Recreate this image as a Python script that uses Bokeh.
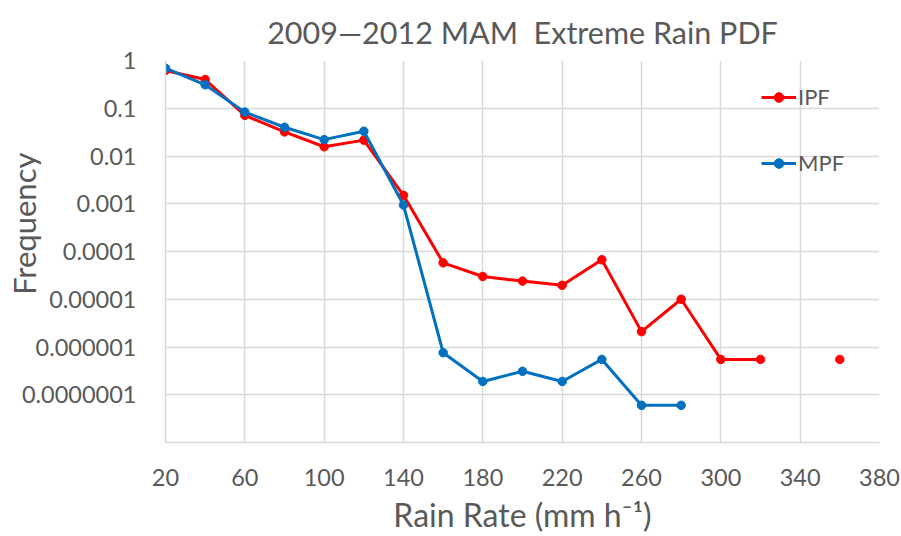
from bokeh.plotting import figure
from bokeh.models import FixedTicker, CustomJSTickFormatter, Range1d, Legend, LegendItem
from bokeh.embed import file_html
from bokeh.resources import INLINE
import numpy as np

rain_rate = [20, 40, 60, 80, 100, 120, 140, 160, 180, 200, 220, 240, 260, 280, 300, 320, 340, 360]
ipf = [0.62, 0.40, 0.071, 0.032, 0.0156, 0.0215, 0.0015, 5.8e-5, 3.0e-5, 2.4e-5, 1.96e-5, 6.7e-5,
       2.1e-6, 1.0e-5, 5.5e-7, 5.5e-7, np.nan, 5.5e-7]
mpf_rate = [20, 40, 60, 80, 100, 120, 140, 160, 180, 200, 220, 240, 260, 280]
mpf = [0.69, 0.31, 0.083, 0.040, 0.022, 0.033, 9.4e-4, 7.6e-7, 1.9e-7, 3.1e-7, 1.9e-7, 5.5e-7, 6e-8, 6e-8]
x_ticks = [20, 60, 100, 140, 180, 220, 260, 300, 340, 380]
y_ticks = [1e-8, 1e-7, 1e-6, 1e-5, 1e-4, 1e-3, 1e-2, 1e-1, 1]

FONT = "Lato"
TXT = "#595959"
GRID = "#d9d9d9"

p = figure(width=901, height=536, y_axis_type="log", output_backend="svg", toolbar_location=None,
           x_range=Range1d(20, 380), y_range=Range1d(1e-8, 1),
           min_border_left=165, min_border_right=22, min_border_top=59, min_border_bottom=93,
           title="2009\u20142012 MAM\u00a0 Extreme Rain PDF")
p.outline_line_color = None
p.background_fill_color = "white"
p.border_fill_color = "white"

p.title.text_font = FONT
p.title.text_font_size = "30.5px"
p.title.text_font_style = "normal"
p.title.text_color = TXT
p.title.align = "center"
p.title.standoff = 22

p.xaxis.ticker = FixedTicker(ticks=x_ticks)
p.yaxis.ticker = FixedTicker(ticks=y_ticks)
p.yaxis.formatter = CustomJSTickFormatter(code="""
if (tick < 5e-8) return "";
if (tick >= 0.999) return "1";
return tick.toFixed(Math.round(-Math.log10(tick)));
""")
for ax in (p.xaxis, p.yaxis):
    ax.major_tick_line_color = None
    ax.minor_tick_line_color = None
    ax.axis_line_color = GRID
    ax.axis_line_width = 1.5
    ax.major_label_text_font = FONT
    ax.major_label_text_font_size = "23.5px"
    ax.major_label_text_color = TXT
    ax.axis_label_text_font = FONT
    ax.axis_label_text_font_style = "normal"
    ax.axis_label_text_color = TXT
p.yaxis.major_label_standoff = 23
p.xaxis.major_label_standoff = 20

p.xaxis.axis_label = "Rain Rate (mm h\u207b\u00b9)"
p.xaxis.axis_label_text_font_size = "32px"
p.xaxis.axis_label_standoff = 6
p.yaxis.axis_label = "\u00a0" * 7 + "Frequency"
p.yaxis.axis_label_text_font_size = "31px"
p.yaxis.axis_label_standoff = -24

p.xgrid.grid_line_color = GRID
p.ygrid.grid_line_color = GRID
p.xgrid.grid_line_width = 1.5
p.ygrid.grid_line_width = 1.5
p.ygrid.minor_grid_line_color = None

r1 = p.line(rain_rate, ipf, line_color="#ff0000", line_width=3)
s1 = p.scatter(rain_rate, ipf, size=8.5, fill_color="#ff0000", line_color="#ff0000")
r2 = p.line(mpf_rate, mpf, line_color="#0070c0", line_width=3)
s2 = p.scatter(mpf_rate, mpf, size=8.5, fill_color="#0070c0", line_color="#0070c0")

legend = Legend(items=[LegendItem(label="IPF", renderers=[r1, s1]),
                       LegendItem(label="MPF", renderers=[r2, s2])],
                location=(596, 266), border_line_color=None, background_fill_alpha=0,
                glyph_width=35, glyph_height=24, label_text_font=FONT, label_text_font_size="22px",
                label_text_color=TXT, spacing=39, padding=0, margin=0, label_standoff=2)
p.add_layout(legend)

open("out.html", "w").write(file_html(p, INLINE))
